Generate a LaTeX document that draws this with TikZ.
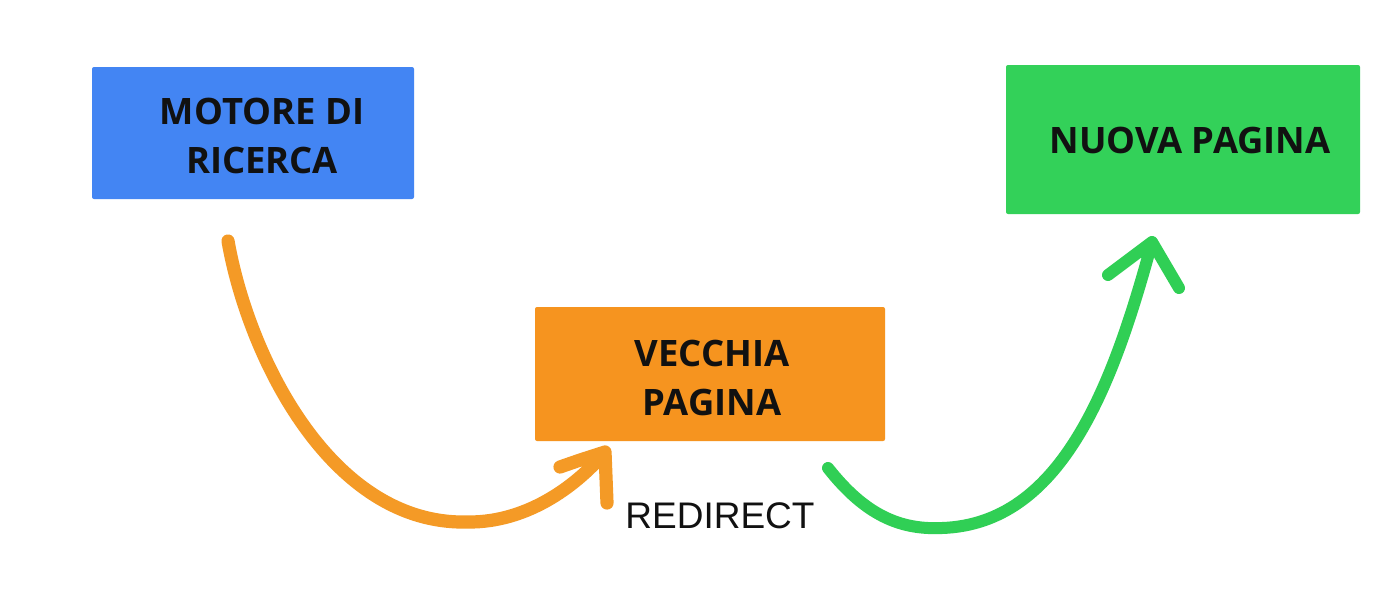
\documentclass[tikz,border=0pt]{standalone}
\usepackage{fontspec}
\setmainfont{Open Sans}
\newfontfamily\redfont{Liberation Sans}
\definecolor{boxblue}{HTML}{4385F3}
\definecolor{boxorange}{HTML}{F6941F}
\definecolor{boxgreen}{HTML}{33D159}
\definecolor{arrorange}{HTML}{F49A26}
\definecolor{arrgreen}{HTML}{30CF55}
\definecolor{txt}{HTML}{111111}
\begin{document}
\begin{tikzpicture}[x=0.5pt,y=-0.5pt,
  box/.style={rectangle, rounded corners=1pt, inner sep=0pt, align=center,
    text=txt, font=\fontsize{18.2}{24.5}\selectfont\bfseries},
  sketch/.style={line width=6.6pt, line cap=round, line join=round}]
\useasboundingbox (0,0) rectangle (1400,606);
\fill[white] (0,0) rectangle (1400,606);
\node[box, fill=boxblue, minimum width=161pt, minimum height=66pt] (motore) at (253,133) {};
\node[box, fill=boxorange, minimum width=175pt, minimum height=67pt] (vecchia) at (710,374) {};
\node[box, fill=boxgreen, minimum width=177pt, minimum height=74.5pt] (nuova) at (1183,139.5) {};
\node[box] (motoretxt) at ([xshift=4.5pt,yshift=-1.5pt]motore.center) {MOTORE DI\\RICERCA};
\node[box] (vecchiatxt) at ([xshift=1pt,yshift=-2pt]vecchia.center) {VECCHIA\\PAGINA};
\node[box] (nuovatxt) at ([xshift=3.5pt,yshift=-0.5pt]nuova.center) {NUOVA PAGINA};
\node[text=txt, font=\redfont\fontsize{18.5}{22}\selectfont, inner sep=0pt] (redirect) at (720,516) {REDIRECT};
% orange arrow
\coordinate (o1) at (228,241);
\coordinate (o2) at (467,522);
\coordinate (otip) at (605,452);
\coordinate (ob1) at (560,467);
\coordinate (ob2) at (607,503);
\draw[sketch, arrorange] (o1) .. controls (248,355) and (330,525) .. (o2)
  .. controls (530,523) and (580,482) .. (otip)
  (ob1) .. controls (580,460) .. (otip) -- (ob2);
% green arrow
\coordinate (g1) at (828,468);
\coordinate (g2) at (942,528);
\coordinate (gtip) at (1152,242);
\coordinate (gb1) at (1108,275);
\coordinate (gb2) at (1179,288);
\draw[sketch, arrgreen, line width=6pt] (g1) .. controls (865,515) and (900,530) .. (g2)
  .. controls (1060,524) and (1112,390) .. (gtip)
  (gb1) -- (gtip) -- (gb2);
\end{tikzpicture}
\end{document}
